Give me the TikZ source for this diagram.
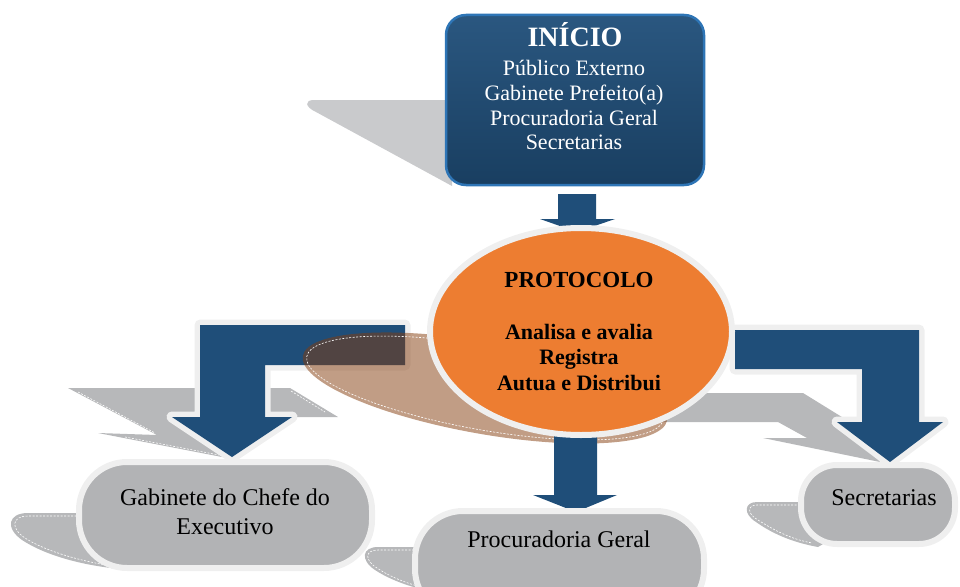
\documentclass[tikz,border=0pt]{standalone}
\usepackage{fontspec}
\setmainfont{Liberation Serif}
\usetikzlibrary{shapes.geometric}
\definecolor{arrowblue}{HTML}{1F4E79}
\definecolor{boxedge}{HTML}{2E75B6}
\definecolor{orangeP}{HTML}{ED7D31}
\definecolor{rimgray}{HTML}{EFEFEF}
\definecolor{pillgray}{HTML}{B2B3B5}
\definecolor{shadowgray}{HTML}{B7B8BA}
\definecolor{lightshadow}{HTML}{C9CACC}
\definecolor{brownshadow}{HTML}{843C0C}
\begin{document}
\begin{tikzpicture}[x=1pt,y=-1pt,
  blockarrow/.style={fill=arrowblue},
  rimarrow/.style={preaction={draw=rimgray,line width=11pt,line join=round},fill=arrowblue},
  pill/.style={draw=rimgray,line width=6pt,fill=pillgray,inner sep=0pt},
  shadowline/.style={draw=white,line width=0.6pt,dash pattern=on 2pt off 1.5pt},
  whitetxt/.style={text=white,inner sep=0pt,anchor=base,font=\fontsize{22}{25}\selectfont},
  boldtxt/.style={text=black,inner sep=0pt,anchor=base,font=\fontsize{22}{25}\selectfont\bfseries},
  pilltxt/.style={text=black,inner sep=0pt,anchor=base,font=\fontsize{24}{28}\selectfont}]
\useasboundingbox (0,0) rectangle (960,586);

% shadow of the start box
\fill[lightshadow] (452,100) -- (314,100) .. controls (304,100) and (305,107) .. (316,112) -- (452,186) -- cycle;

% start box
\node[draw=boxedge,line width=2.5pt,rounded corners=20pt,minimum width=258pt,minimum height=170pt,
  top color=arrowblue!95!white,middle color=arrowblue,bottom color=arrowblue!80!black,inner sep=0pt] (inicio) at (575,100) {};
\node[whitetxt,font=\fontsize{28}{30}\selectfont\bfseries] (t0) at (575,47) {INÍCIO};
\node[whitetxt] (t1) at (574,75) {Público Externo};
\node[whitetxt] (t2) at (574,100) {Gabinete Prefeito(a)};
\node[whitetxt] (t3) at (574,125) {Procuradoria Geral};
\node[whitetxt] (t4) at (574,149) {Secretarias};

% small arrow start -> protocolo
\fill[blockarrow] (558,194) -- (596,194) -- (596,219) -- (615,219) -- (577,232) -- (540,219) -- (558,219) -- cycle;

% shadows of bent arrows
\fill[shadowgray] (68,388) -- (290,388) -- (338,417) -- (292,417) -- (232,455) -- (222,457) -- (98,433) -- (157,435) -- cycle;
\draw[shadowline] (78,392) -- (155,433);
\draw[shadowline] (125,437) -- (219,455);
\draw[shadowline] (291,391) -- (325,412);
\fill[shadowgray] (680,393) -- (803,393) -- (850,422) -- (880,462) -- (763,438) -- (807,438) -- (778,422) -- (660,422) -- cycle;

% bent arrows
\fill[rimarrow] (405,325) -- (200,325) -- (200,417) -- (172,417) -- (232,457) -- (292,417) -- (265,417) -- (265,365) -- (405,365) -- cycle;
\fill[rimarrow] (735,330) -- (919,330) -- (919,422) -- (943,422) -- (890,462) -- (837,422) -- (862,422) -- (862,369) -- (735,369) -- cycle;

% brown shadow of the ellipse
\begin{scope}[shift={(485,388)},rotate=-10]
  \fill[brownshadow,fill opacity=0.5] (0,0) ellipse [x radius=185, y radius=46];
  \draw[shadowline] (0,0) ellipse [x radius=181, y radius=42];
\end{scope}

% arrow protocolo -> procuradoria
\fill[blockarrow] (554,425) -- (597,425) -- (597,495) -- (617,495) -- (576,512) -- (533,495) -- (554,495) -- cycle;

% protocolo ellipse
\node[ellipse,draw=rimgray,line width=6pt,fill=orangeP,minimum width=302pt,minimum height=207pt,inner sep=0pt] (proto) at (581,331.5) {};
\node[boldtxt,font=\fontsize{23}{25}\selectfont\bfseries] (p0) at (579,287) {PROTOCOLO};
\node[boldtxt] (p1) at (579,339) {Analisa e avalia};
\node[boldtxt] (p2) at (579,364) {Registra};
\node[boldtxt] (p3) at (579,390) {Autua e Distribui};

% shadows of bottom boxes
\fill[shadowgray] (130,513) -- (28,513) .. controls (8,513) and (5,528) .. (22,540) .. controls (45,555) and (80,565) .. (120,569) -- (130,560) -- cycle;
\draw[shadowline] (80,516) -- (28,516) .. controls (12,516) and (10,528) .. (25,538) .. controls (45,551) and (80,561) .. (112,566);
\fill[shadowgray] (450,547) -- (378,547) .. controls (362,547) and (360,560) .. (375,570) .. controls (395,583) and (420,590) .. (450,595) -- cycle;
\draw[shadowline] (414,550) -- (378,550) .. controls (365,550) and (364,560) .. (377,568) .. controls (395,580) and (415,586) .. (440,592);
\fill[shadowgray] (830,502) -- (757,502) .. controls (744,502) and (743,514) .. (756,522) .. controls (770,532) and (790,542) .. (818,547) -- (830,540) -- cycle;
\draw[shadowline] (800,505) -- (757,505) .. controls (747,505) and (747,514) .. (758,520) .. controls (772,529) and (790,539) .. (812,543);

% bottom boxes
\node[pill,rounded corners=48pt,minimum width=293pt,minimum height=106pt] (gab) at (225.5,515) {};
\node[pilltxt] (g1) at (225,505.7) {Gabinete do Chefe do};
\node[pilltxt] (g2) at (225,534) {Executivo};
\node[pill,rounded corners=48pt,minimum width=289pt,minimum height=106pt] (proc) at (559.5,564) {};
\node[pilltxt] (pr1) at (559,547) {Procuradoria Geral};
\node[pill,rounded corners=36pt,minimum width=154pt,minimum height=79pt] (sec) at (878,504.5) {};
\node[pilltxt] (s1) at (884,505) {Secretarias};
\end{tikzpicture}
\end{document}
